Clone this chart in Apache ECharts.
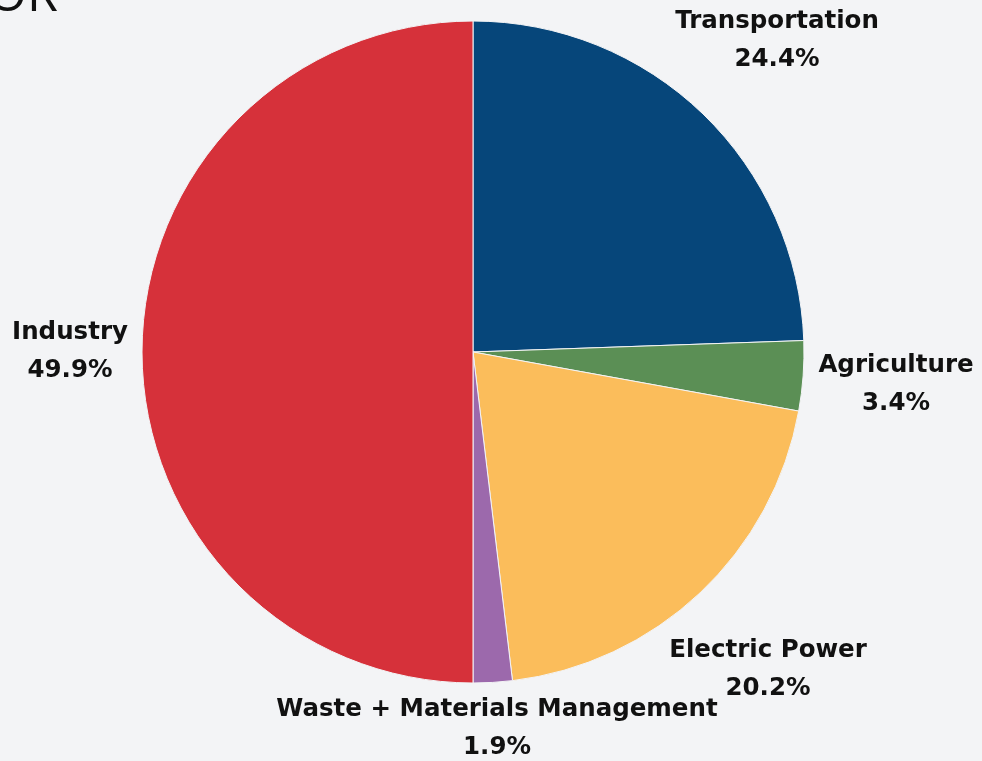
<!DOCTYPE html>
<html>
<head>
<meta charset="utf-8">
<script src="https://cdn.jsdelivr.net/npm/echarts@6/dist/echarts.min.js"></script>
<style>
  html, body { margin: 0; padding: 0; background: #f3f4f6; }
  #chart { width: 982px; height: 761px; }
</style>
</head>
<body>
<div id="chart"></div>
<script>
// Emissions share by sector (percent)
const sectors = ['Transportation', 'Agriculture', 'Electric Power', 'Waste + Materials Management', 'Industry'];
const shares = [24.4, 3.4, 20.2, 1.9, 49.9];
const sectorColors = ['#06467a', '#5b8f55', '#fbbd5b', '#9c69ac', '#d6313a'];

// Label anchor points (centre of each two-line label)
const labelSpots = [
  [777, 41],
  [896, 385],
  [768, 670],
  [497, 729],
  [70, 352]
];

const chart = echarts.init(document.getElementById('chart'), null, { renderer: 'canvas' });

chart.setOption({
  backgroundColor: '#f3f4f6',
  animation: false,
  graphic: [{
    type: 'text',
    left: -12,
    top: -28,
    style: {
      text: 'OR',
      font: '400 50px "Open Sans", sans-serif',
      fill: '#111'
    }
  }],
  series: [{
    type: 'pie',
    center: [473, 352],
    radius: 331,
    startAngle: 90,
    clockwise: true,
    data: sectors.map((name, i) => ({
      name: name,
      value: shares[i],
      itemStyle: { color: sectorColors[i] }
    })),
    itemStyle: { borderColor: '#f3f4f6', borderWidth: 1 },
    label: {
      show: true,
      position: 'outside',
      formatter: '{b}\n{c}%',
      fontFamily: '"DejaVu Sans", sans-serif',
      fontWeight: 'bold',
      fontSize: 24.5,
      lineHeight: 38,
      color: '#111',
      align: 'center',
      overflow: 'none'
    },
    labelLine: { show: false },
    labelLayout: function (params) {
      const p = labelSpots[params.dataIndex];
      return { x: p[0], y: p[1], align: 'center', verticalAlign: 'middle' };
    }
  }]
});
</script>
</body>
</html>
